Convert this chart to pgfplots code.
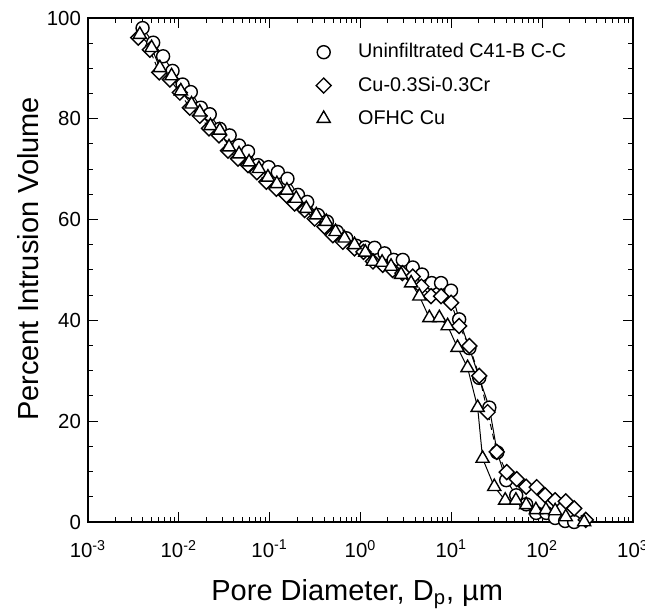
\documentclass[border=0pt]{standalone}
\usepackage{pgfplots}
\pgfplotsset{compat=1.18}
\usepackage{fontspec}
\setmainfont{Liberation Sans}
\begin{document}
\begin{tikzpicture}
\begin{axis}[
  xmode=log, xmin=1e-3, xmax=1e3, ymin=0, ymax=100,
  scale only axis, width=272.5pt, height=252pt,
  xtick={1e-3,1e-2,1e-1,1,1e1,1e2,1e3},
  xticklabels={10\textsuperscript{-3},10\textsuperscript{-2},10\textsuperscript{-1},10\textsuperscript{0},10\textsuperscript{1},10\textsuperscript{2},10\textsuperscript{3}},
  ytick={0,20,40,60,80,100}, minor y tick num=3,
  tick align=inside,
  major tick length=5pt, minor tick length=2.5pt,
  tick style={black, line width=0.5pt},
  axis line style={line width=0.6pt},
  ticklabel style={font=\fontsize{10.2}{12}\selectfont},
  x tick label style={yshift=-5.5pt},
  /pgf/number format/assume math mode=true,
  xlabel={Pore Diameter, D\textsubscript{p}, µm},
  ylabel={Percent Intrusion Volume},
  label style={font=\fontsize{14.5}{17}\selectfont},
  x label style={at={(axis description cs:0.494,-0.143)}, anchor=center},
  y label style={at={(axis description cs:-0.11,0.522)}, anchor=center},
  clip=false,
  legend style={draw=none, fill=none, at={(axis description cs:0.407,0.966)}, anchor=north west,
    font=\fontsize{9.9}{11}\selectfont, row sep=4pt,
    /tikz/every odd column/.append style={column sep=11.5pt}},
  legend cell align=left,
]
\addlegendimage{only marks, mark=o, mark size=3.25pt, mark options={line width=0.7pt}}
\addlegendentry{Uninfiltrated C41-B C-C}
\addlegendimage{only marks, mark=square, mark size=2.65pt, mark options={rotate=45, line width=0.7pt}}
\addlegendentry{Cu-0.3Si-0.3Cr}
\addlegendimage{only marks, mark=triangle, mark size=3.8pt, mark options={line width=0.7pt}}
\addlegendentry{OFHC Cu}

% Uninfiltrated C41-B C-C
\addplot[forget plot, black, line width=0.5pt, mark=*, mark size=3.25pt, mark options={fill=white, draw=black, line width=0.7pt}] coordinates {
(0.00399,98.0) (0.00522,95.1) (0.00671,92.4) (0.00853,89.5) (0.0110,86.8)
(0.01355,85.3) (0.01746,82.2) (0.0219,80.9) (0.0282,78.0) (0.0363,76.7)
(0.0460,74.7) (0.0578,73.5) (0.0743,70.8) (0.0975,70.4) (0.123,69.4)
(0.157,68.1) (0.205,64.9) (0.259,63.5) (0.340,60.9) (0.427,59.6)
(0.550,57.6) (0.697,56.3) (0.898,54.8) (1.13,54.5) (1.43,54.4)
(1.84,53.3) (2.32,52.0) (2.92,52.0) (3.76,50.5) (4.76,49.1)
(6.08,47.4) (7.71,47.4) (9.93,45.9) (12.2,40.2) (15.8,34.5)
(20.3,28.6) (26.2,22.7) (32.0,13.8) (40.2,8.3) (51.8,5.3)
(66.7,3.5) (85.9,1.8) (111,1.8) (139,0.8) (179,0.2) (225,0.0)
};
% Cu-0.3Si-0.3Cr
\addplot[forget plot, black, line width=0.5pt, dash pattern=on 3pt off 2pt, mark=square*, mark size=2.65pt, mark options={solid, rotate=45, fill=white, draw=black, line width=0.7pt}] coordinates {
(0.00357,96.1) (0.00480,93.7) (0.00608,89.2) (0.00796,87.8) (0.01026,85.2)
(0.01321,82.2) (0.0170,80.6) (0.0215,78.1) (0.0277,76.7) (0.0348,73.7)
(0.0449,72.1) (0.0578,70.8) (0.0724,69.4) (0.0921,67.5) (0.1186,66.1)
(0.153,64.8) (0.188,63.2) (0.243,61.9) (0.313,60.2) (0.402,58.6)
(0.497,56.9) (0.638,55.6) (0.859,54.3) (1.08,53.6) (1.37,51.7)
(1.76,51.0) (2.26,50.0) (2.90,49.4) (3.76,48.7) (4.68,46.7)
(5.98,44.8) (7.71,44.8) (9.93,43.5) (12.2,38.9) (15.8,34.9)
(20.3,29.0) (25.1,21.8) (31.6,13.9) (40.7,9.9) (52.5,8.5)
(66.7,7.0) (87.1,6.9) (108,5.3) (139,4.3) (182,4.1) (225,2.7) (302,0.4)
};
% OFHC Cu
\addplot[forget plot, black, line width=0.5pt, mark=triangle*, mark size=3.8pt, mark options={fill=white, draw=black, line width=0.7pt}] coordinates {
(0.00372,96.7) (0.00501,94.1) (0.00618,90.1) (0.00832,88.5) (0.01052,85.5)
(0.0138,82.9) (0.0170,81.3) (0.0223,78.6) (0.0282,77.7) (0.0357,74.4)
(0.0460,73.0) (0.0593,71.4) (0.0762,70.1) (0.0957,68.4) (0.120,67.1)
(0.155,65.8) (0.196,64.2) (0.253,62.2) (0.326,60.9) (0.420,59.6)
(0.531,57.6) (0.667,56.3) (0.859,55.0) (1.13,53.5) (1.37,51.7)
(1.73,51.5) (2.17,50.7) (2.80,49.1) (3.61,47.4) (4.45,44.8)
(5.73,40.5) (7.38,40.5) (9.11,38.9) (11.7,34.6) (15.1,30.6)
(19.5,22.7) (22.1,12.6) (29.7,7.0) (39.2,4.3) (51.4,4.3)
(66.7,3.4) (85.3,2.4) (110,2.4) (139,2.2) (182,1.0) (290,0.0)
};
\end{axis}
\pgfresetboundingbox
\path[use as bounding box] (current axis.south west) ++(-44pt,-43.5pt) rectangle ([xshift=6pt,yshift=9pt]current axis.north east);
\end{tikzpicture}
\end{document}
